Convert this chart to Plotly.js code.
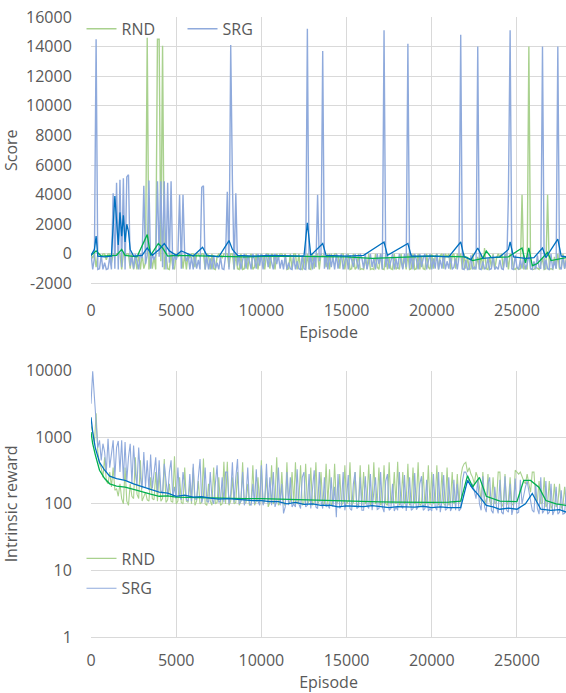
<!DOCTYPE html>
<html><head><meta charset="utf-8">
<script src="https://cdn.plot.ly/plotly-3.0.1.min.js"></script>
<style>html,body{margin:0;padding:0;background:#fff}#chart{width:566px;height:693px}</style>
</head><body><div id="chart"></div>
<script>
// ---------- Score (top panel), sampled every 100 episodes ----------
const scoreStep = 100;
const srgScore = [
  0,-1050,-300,14500,-1050,-1000,-100,-1050,-600,-1050,
  -1000,-200,-1050,4100,-1000,4800,-1050,5000,-900,5100,
  -1050,5200,5350,-800,-200,-1000,0,-500,-1050,0,
  -300,4600,-700,-100,4950,-1000,0,-400,-100,4900,
  -200,4900,-900,4900,-1050,4800,-600,4900,-1050,-100,
  -400,0,4000,-1000,4000,-100,-500,0,-1050,-200,
  -1050,-100,-1000,-400,-1050,4500,4600,-1050,-200,-1050,
  -300,-1050,-100,-1000,-600,-1050,-200,-1000,-1050,-100,
  4200,-1050,14100,4900,-1050,4100,-800,-100,-1050,-400,
  0,-1000,-100,-500,-1050,0,-400,-1000,0,-800,
  0,-1050,-200,0,-900,-100,-500,-1050,0,-700,
  -100,-1000,-400,-1050,-100,-1050,-600,-1000,-1050,-200,
  -1050,-500,-1000,-1050,-100,-1000,-1050,15200,-1050,-100,
  -1050,-100,-900,4000,-500,0,13700,-1000,-100,-1050,
  0,-900,-200,-1050,0,-1000,-400,0,-1050,-500,
  0,-1050,-100,-400,-900,0,-500,-1050,0,-300,
  -1000,0,-1050,-500,0,-900,-300,-1050,0,-700,
  0,-1050,15100,-900,-100,-1000,-400,0,-1050,-300,
  -1000,0,-500,-1050,0,-900,14200,-1000,0,-1050,
  0,-400,-1050,0,-900,-300,0,-1050,-500,0,
  -1050,-300,-1000,0,-1050,-400,-1000,0,-1050,-500,
  -1000,-100,-1050,-900,-300,-1050,-200,14800,-1000,-1050,
  -400,-1050,-1000,-100,-1050,-900,-1050,14000,-1000,-1050,
  -500,-1050,-900,-300,-1050,-1000,-100,-1050,-900,-1050,
  -400,-1000,-1050,0,-900,4000,15100,-1000,-1050,-100,
  -900,-1050,-400,-1000,-100,-1050,-700,0,-1000,-1050,
  -500,-1050,-100,-900,-1000,14000,-1050,-400,-1000,-1050,
  0,-1050,-500,-1000,14000,-900,-1050,-100,-1000,-400
];
const rndScore = [
  0,-300,0,-900,0,0,-200,0,0,-400,
  0,0,-600,0,-100,0,0,0,-1050,0,
  -200,0,0,-1000,0,-1050,-300,-1050,0,-1050,
  0,-1000,-600,14600,-1050,0,-1000,-200,-1050,14500,
  14500,-500,14050,-1050,0,-1000,-1050,0,-900,-1050,
  0,-200,0,0,-1000,0,-1050,0,-300,0,
  0,-900,0,0,-200,0,0,-1050,0,-100,
  -1050,0,-1000,-1050,-200,0,0,-300,0,0,
  0,-900,0,0,-1050,0,-1000,-1050,0,-1050,
  -1000,0,-1050,-200,0,-1050,-900,0,-1050,-300,
  0,-200,-1050,0,0,-1000,0,-100,-1050,0,
  -300,0,0,-200,0,-1050,-1000,0,-1050,0,
  0,-1050,0,-1000,-1050,-200,-1050,0,-1000,-1050,
  0,-1000,-100,0,-1050,0,-200,0,-900,0,
  -1050,0,-300,0,0,-200,-1000,0,0,-1050,
  -200,0,-1050,-1000,0,-1050,-900,0,-1050,-1000,
  -1050,-300,-1000,0,-1050,-1000,-1050,0,-900,-1050,
  0,-1000,-1050,0,-1050,-300,-1000,-1050,0,-1050,
  -900,-1050,0,-1000,-200,-1050,0,-1050,-1000,0,
  -1050,-1000,0,-1050,-200,-1000,-1050,0,-900,-1050,
  0,-1000,-200,0,-1050,-100,0,-1000,0,-200,
  0,-1050,-100,0,-1000,0,-200,0,-1050,0,
  -1000,-200,-1050,-1000,0,-1050,-900,-200,-1050,0,
  -1050,400,-1000,-1050,-200,-900,0,-1050,-300,0,
  -200,0,-1000,-100,0,-1050,0,-200,-1000,-1050,
  -900,-1050,-1000,4000,-1050,-800,-1050,14000,-1000,-1050,
  -1050,-900,-1000,-1050,-700,-300,-1050,-1000,4000,-1050,
  -1000,-1050,-200,-1000,0,-1050,-900,0,-1000,-300
];
// moving-average lines of the score panel
const srgScoreMaEp = [0,200,300,400,800,1200,1400,1500,1600,1700,1800,1900,2000,2100,2200,2300,2500,3000,3300,3600,4000,4300,4600,5000,5300,6000,6550,6800,7500,8100,8300,8600,9500,10500,11500,12500,12700,12900,13600,13800,15000,16000,17200,17400,18600,18800,20000,21000,21700,21900,22300,22700,23000,23600,24000,24500,24600,24800,25500,26000,26500,26700,27400,27600,27900];
const srgScoreMa   = [-100,300,1200,-150,-200,-150,3900,2200,600,2800,1200,2600,800,2000,1500,300,-150,-100,400,-100,300,700,200,-100,200,-150,450,-100,-200,900,300,-100,-150,-100,-150,-150,2100,-100,700,-100,-150,-100,800,-100,700,-150,-150,-200,800,-200,-400,400,-300,-250,-200,300,800,-200,-300,-250,400,-250,1000,-150,-200];
const rndScoreMaEp = [0,300,600,1500,1800,2000,2700,3300,3500,3950,4200,4500,5000,7000,9000,11000,13000,15000,16500,18000,20000,22000,22400,23000,23200,23500,24500,25300,25500,25700,25900,26200,26800,27000,27900];
const rndScoreMa   = [-100,200,-150,-100,300,-100,-200,1300,-100,700,400,-150,-100,-150,-200,-150,-200,-200,-300,-250,-150,-200,-450,-300,200,-250,-200,400,-600,400,-800,-650,100,-450,-250];

// ---------- Intrinsic reward (bottom panel), sampled every 100 episodes ----------
const rewardStep = 100;
const srgReward = [
  3200,9800,4000,1500,700,900,450,800,600,300,950,350,600,900,250,700,880,300,900,230,
  850,220,500,800,200,750,300,190,700,250,170,600,180,450,160,550,170,300,500,150,
  450,160,140,400,200,130,300,450,125,180,120,350,130,115,300,200,115,110,280,110,
  400,120,115,250,470,105,130,350,110,105,300,120,100,200,380,105,110,250,105,300,
  300,100,140,420,105,250,470,100,110,300,95,130,350,100,95,200,100,330,110,95,
  380,95,120,400,100,250,95,300,90,110,350,95,200,72,90,300,95,250,90,100,
  90,330,100,85,250,300,90,95,280,85,150,320,90,85,300,110,85,250,90,95,
  85,250,90,180,63,280,85,95,300,80,120,270,85,80,200,300,85,90,250,80,
  80,260,95,85,280,80,150,250,82,85,300,90,75,220,280,80,85,200,78,90,
  80,300,95,85,270,78,120,250,80,85,290,82,90,200,260,80,85,230,78,85,
  78,280,90,80,300,75,110,270,80,85,250,78,90,230,80,200,78,85,220,300,
  300,250,220,180,200,150,120,230,100,80,260,90,75,200,250,80,72,180,90,72,
  230,75,70,260,80,75,200,68,90,240,72,75,230,100,140,180,220,150,120,80,
  75,200,85,70,250,72,80,220,70,75,200,68,80,180,70,75,160,70,72,180
];
const rndReward = [
  1500,1200,800,2300,600,400,350,250,500,220,200,300,180,350,160,170,130,200,120,100,
  350,110,95,200,130,120,500,140,120,450,110,130,150,115,110,250,120,115,300,110,
  300,110,120,470,105,115,200,110,105,520,100,110,250,105,100,350,110,105,200,100,
  350,95,110,220,100,105,480,100,95,200,110,95,350,100,105,250,95,100,430,100,
  430,95,110,250,100,105,300,95,110,420,100,105,200,95,100,380,95,110,250,95,
  450,100,110,250,90,105,380,100,110,500,95,105,300,100,95,420,100,110,300,100,
  420,100,110,380,95,105,400,100,110,350,95,105,420,100,110,300,95,100,400,100,
  330,95,105,400,100,110,280,95,105,380,100,110,420,95,105,300,100,95,380,95,
  300,100,110,390,95,105,420,100,110,350,95,105,380,100,95,420,100,105,300,100,
  430,95,105,300,100,110,400,95,105,350,100,110,420,95,100,300,95,105,380,95,
  300,100,105,380,95,110,300,100,95,350,95,105,300,100,110,280,100,250,350,400,
  420,300,350,280,250,200,300,250,180,110,300,120,100,280,110,95,250,100,105,300,
  300,90,100,280,95,110,250,100,95,320,300,280,300,250,220,200,280,200,150,300,
  300,120,110,220,100,105,250,90,100,220,85,95,200,90,100,200,85,95,180,90
];
const srgRewardMaEp = [0,100,250,500,800,1100,1500,2000,2500,3000,3500,4000,4500,5000,5500,6000,6500,7000,7500,8000,8500,9000,9500,10000,10500,11000,11500,12000,12500,13000,13500,14000,14500,15000,15500,16000,16500,17000,17500,18000,18500,19000,19500,20000,20500,21000,21700,22100,22400,22700,23200,23600,24000,24500,25000,25500,25900,26200,26400,27000,27500,27900];
const srgRewardMa   = [2000,1200,700,420,320,260,240,225,200,180,165,150,145,130,135,126,128,122,118,120,116,115,112,112,108,108,100,105,98,100,95,96,90,93,92,91,94,92,88,91,90,89,92,88,90,88,88,225,170,140,95,90,83,86,83,100,143,100,83,80,82,75];
const rndRewardMaEp = [0,100,250,500,800,1100,1500,2000,2500,3000,3500,4000,4500,5000,6000,7000,8000,9000,10000,11000,12000,13000,14000,15000,16000,17000,18000,19000,20000,21000,21700,22100,22400,22800,23200,24000,25000,25400,25800,26300,26700,27300,27900];
const rndRewardMa   = [1200,800,550,320,240,200,185,178,165,150,140,130,132,126,124,123,121,120,120,118,114,112,110,108,108,107,106,105,105,106,110,265,180,250,130,110,108,225,225,176,112,100,95];

// ---------- ticks / labels ----------
const episodeTickVals = [0,5000,10000,15000,20000,25000];
const episodeTickText = ['0','5000','10000','15000','20000','25000'];
const scoreTickVals = [-2000,0,2000,4000,6000,8000,10000,12000,14000,16000];
const scoreTickText = ['-2000','0','2000','4000','6000','8000','10000','12000','14000','16000'];
const rewardTickVals = [1,10,100,1000,10000];
const rewardTickText = ['1','10','100','1000','10000'];
const seriesNames = ['RND','SRG'];

const C = {rndLight:'#a9d18e', srgLight:'#8faadc', rndDark:'#00b050', srgDark:'#0070c0'};
const scoreEp = srgScore.map((_, i) => i * scoreStep);
const rewardEp = srgReward.map((_, i) => i * rewardStep);

const FONT = {family:'"Open Sans", "Liberation Sans", sans-serif', size:16, color:'#595959'};

const traces = [
  {x:scoreEp, y:rndScore, type:'scatter', mode:'lines', name:seriesNames[0], line:{color:C.rndLight, width:1.4}, xaxis:'x', yaxis:'y', legend:'legend'},
  {x:scoreEp, y:srgScore, type:'scatter', mode:'lines', name:seriesNames[1], line:{color:C.srgLight, width:1.4}, xaxis:'x', yaxis:'y', legend:'legend'},
  {x:rndScoreMaEp, y:rndScoreMa, type:'scatter', mode:'lines', showlegend:false, line:{color:C.rndDark, width:1.3}, xaxis:'x', yaxis:'y'},
  {x:srgScoreMaEp, y:srgScoreMa, type:'scatter', mode:'lines', showlegend:false, line:{color:C.srgDark, width:1.3}, xaxis:'x', yaxis:'y'},
  {x:rewardEp, y:rndReward, type:'scatter', mode:'lines', name:seriesNames[0], line:{color:C.rndLight, width:1.1}, xaxis:'x2', yaxis:'y2', legend:'legend2', legendgroup:'a'},
  {x:rewardEp, y:srgReward, type:'scatter', mode:'lines', name:seriesNames[1], line:{color:C.srgLight, width:1.1}, xaxis:'x2', yaxis:'y2', legend:'legend2', legendgroup:'b'},
  {x:rndRewardMaEp, y:rndRewardMa, type:'scatter', mode:'lines', showlegend:false, line:{color:C.rndDark, width:1.3}, xaxis:'x2', yaxis:'y2'},
  {x:srgRewardMaEp, y:srgRewardMa, type:'scatter', mode:'lines', showlegend:false, line:{color:C.srgDark, width:1.3}, xaxis:'x2', yaxis:'y2'}
];

const xBase = {
  range:[0, 27880], tickvals:episodeTickVals, ticktext:episodeTickText,
  showgrid:true, gridcolor:'#d9d9d9', gridwidth:1, zeroline:false,
  showline:true, linecolor:'#d9d9d9', linewidth:1,
  ticks:'outside', ticklen:9, tickcolor:'rgba(0,0,0,0)',
  tickfont:FONT, automargin:false,
  title:{text:'Episode', font:FONT, standoff:2}
};
const yBase = {
  showgrid:true, gridcolor:'#d9d9d9', gridwidth:1, zeroline:false,
  showline:false, ticks:'outside', ticklen:15, tickcolor:'rgba(0,0,0,0)',
  tickfont:FONT, automargin:false
};

const layout = {
  width:566, height:693,
  margin:{l:91, r:0, t:17, b:56},
  paper_bgcolor:'#fff', plot_bgcolor:'#fff',
  font:FONT,
  xaxis:Object.assign({}, xBase, {anchor:'y', domain:[0,1], ticklen:12, title:{text:'Episode', font:FONT, standoff:4}}),
  yaxis:Object.assign({}, yBase, {anchor:'x', domain:[0.5702,1], range:[-2000,16000], tickvals:scoreTickVals, ticktext:scoreTickText, title:{text:'Score', font:FONT, standoff:8}}),
  xaxis2:Object.assign({}, xBase, {anchor:'y2', domain:[0,1]}),
  yaxis2:Object.assign({}, yBase, {anchor:'x2', domain:[0,0.4295], type:'log', range:[0,4], tickvals:rewardTickVals, ticktext:rewardTickText, title:{text:'Intrinsic reward', font:FONT, standoff:8}}),
  legend:{orientation:'h', x:-0.02, xanchor:'left', y:0.981, yanchor:'middle', bgcolor:'rgba(0,0,0,0)', font:FONT, traceorder:'normal', entrywidth:56},
  legend2:{orientation:'v', x:-0.02, xanchor:'left', y:0.1024, yanchor:'middle', bgcolor:'rgba(0,0,0,0)', font:FONT, traceorder:'grouped', tracegroupgap:6},
  hovermode:false
};

Plotly.newPlot('chart', traces, layout, {staticPlot:true, displayModeBar:false});
</script>
</body></html>
